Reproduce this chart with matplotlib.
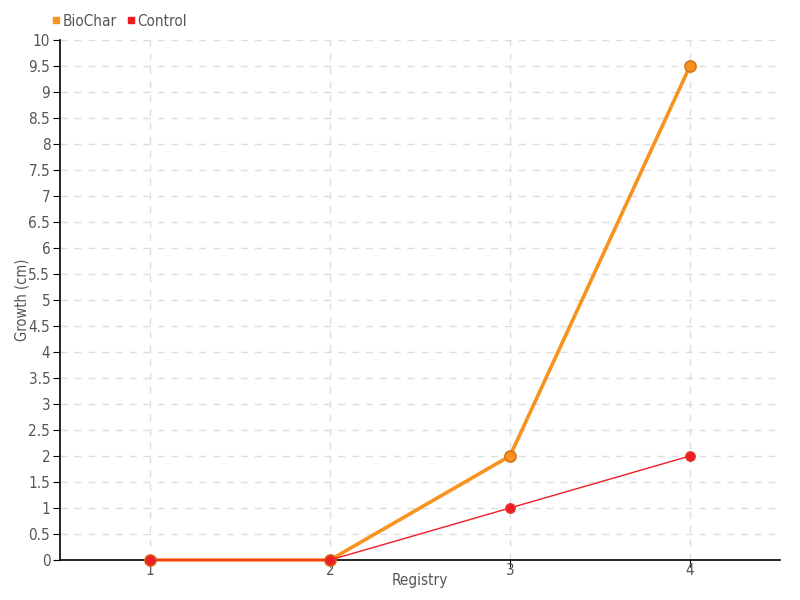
import matplotlib
matplotlib.use("Agg")
import matplotlib.pyplot as plt
from matplotlib.lines import Line2D

registry = [1, 2, 3, 4]
biochar = [0, 0, 2, 9.5]
control = [0, 0, 1, 2]
yticks = [i * 0.5 for i in range(21)]
ytick_labels = ["0", "0.5", "1", "1.5", "2", "2.5", "3", "3.5", "4", "4.5", "5",
                "5.5", "6", "6.5", "7", "7.5", "8", "8.5", "9", "9.5", "10"]

plt.rcParams['font.family'] = ['DejaVu Sans']
plt.rcParams['font.stretch'] = 'condensed'
txt = '#555555'

fig = plt.figure(figsize=(8, 6), dpi=100)
ax = fig.add_axes([0.075, 0.0667, 0.9, 0.8667])

ax.plot(registry, biochar, color='#f7931e', lw=2.6, marker='o', ms=8,
        mfc='#f7931e', mec='#d9741a', mew=1.2, zorder=3, clip_on=False)
ax.plot(registry, control, color='#ee1c25', lw=1, marker='o', ms=7,
        mfc='#ee1c25', mec='#e0402a', mew=0.8, zorder=4, clip_on=False)

ax.set_xlim(0.5, 4.5)
ax.set_ylim(0, 10)
ax.set_xticks(registry)
ax.set_xticklabels([str(r) for r in registry])
ax.set_yticks(yticks)
ax.set_yticklabels(ytick_labels)

for s in ['top', 'right']:
    ax.spines[s].set_visible(False)
ax.spines['left'].set_color('black')
ax.spines['bottom'].set_color('black')
ax.spines['left'].set_linewidth(1.2)
ax.spines['bottom'].set_linewidth(1.2)

ax.grid(True, color='#dddddd', linestyle=(0, (5, 5)), linewidth=1)
ax.set_axisbelow(True)
ax.tick_params(axis='both', colors='black', labelcolor=txt, labelsize=11, length=5)
ax.tick_params(axis='x', pad=-3)
ax.tick_params(axis='y', pad=2)

ax.set_xlabel('Registry', color=txt, fontsize=11)
ax.xaxis.set_label_coords(0.5, -0.025)
ax.set_ylabel('Growth (cm)', color=txt, fontsize=10.5)
ax.yaxis.set_label_coords(-0.043, 0.5)

handles = [Line2D([], [], color='#f7931e', marker='s', ls='none', ms=5),
           Line2D([], [], color='#ee1c25', marker='s', ls='none', ms=5)]
fig.legend(handles, ['BioChar', 'Control'], loc='upper left',
           bbox_to_anchor=(0.045, 1.0), ncol=2, frameon=False,
           handletextpad=0.05, columnspacing=0.5, fontsize=11, labelcolor=txt,
           handlelength=0.8)

fig.savefig('out.png', dpi=100)
